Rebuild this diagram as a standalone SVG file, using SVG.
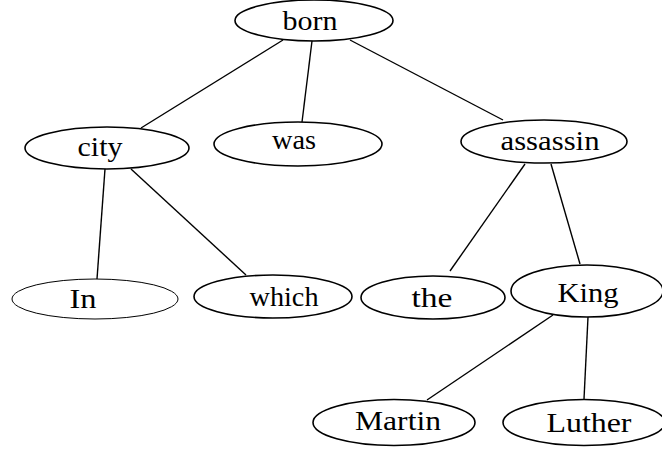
<svg xmlns="http://www.w3.org/2000/svg" width="662" height="451" viewBox="0 0 662 451">
<style>
.n ellipse{fill:none;stroke:#000;stroke-width:1.6}
.n text{font-family:"Liberation Serif",serif;font-size:27px;text-anchor:middle;fill:#000}
#edges line{stroke:#000;stroke-width:1.4}
</style>
<rect width="662" height="451" fill="#fff"/>
<g id="edges">
<line x1="283" y1="40" x2="141" y2="128"/>
<line x1="312" y1="41" x2="302" y2="122"/>
<line x1="350" y1="40" x2="503" y2="120"/>
<line x1="105" y1="169" x2="97" y2="279"/>
<line x1="131" y1="169" x2="246" y2="275"/>
<line x1="525" y1="164" x2="450" y2="271"/>
<line x1="551" y1="164" x2="580" y2="264"/>
<line x1="553" y1="315" x2="427" y2="400"/>
<line x1="588" y1="317" x2="584" y2="399"/>
</g>
<g id="born" class="n"><ellipse cx="314" cy="20.5" rx="79" ry="20.5"/><text x="310" y="30" textLength="55" lengthAdjust="spacingAndGlyphs">born</text></g>
<g id="city" class="n"><ellipse cx="107" cy="148" rx="82" ry="21"/><text x="100" y="156" textLength="45" lengthAdjust="spacingAndGlyphs">city</text></g>
<g id="was" class="n"><ellipse cx="298" cy="144" rx="84" ry="22"/><text x="294" y="149" textLength="44" lengthAdjust="spacingAndGlyphs">was</text></g>
<g id="assassin" class="n"><ellipse cx="544" cy="141.5" rx="83" ry="21.5"/><text x="550" y="150" textLength="99" lengthAdjust="spacingAndGlyphs">assassin</text></g>
<g id="In" class="n"><ellipse cx="95" cy="299" rx="83" ry="20" style="stroke-width:1"/><text x="83" y="308" textLength="27" lengthAdjust="spacingAndGlyphs">In</text></g>
<g id="which" class="n"><ellipse cx="273" cy="296.5" rx="79" ry="21.5"/><text x="284" y="306" textLength="69" lengthAdjust="spacingAndGlyphs">which</text></g>
<g id="the" class="n"><ellipse cx="433" cy="297.5" rx="72" ry="21.5"/><text x="432" y="307" textLength="41" lengthAdjust="spacingAndGlyphs">the</text></g>
<g id="King" class="n"><ellipse cx="587" cy="291" rx="76" ry="26"/><text x="588" y="302" textLength="61" lengthAdjust="spacingAndGlyphs">King</text></g>
<g id="Martin" class="n"><ellipse cx="394" cy="422.5" rx="81" ry="23"/><text x="398" y="430" textLength="86" lengthAdjust="spacingAndGlyphs">Martin</text></g>
<g id="Luther" class="n"><ellipse cx="584" cy="422.5" rx="81" ry="23"/><text x="589" y="432" textLength="85" lengthAdjust="spacingAndGlyphs">Luther</text></g>
</svg>
